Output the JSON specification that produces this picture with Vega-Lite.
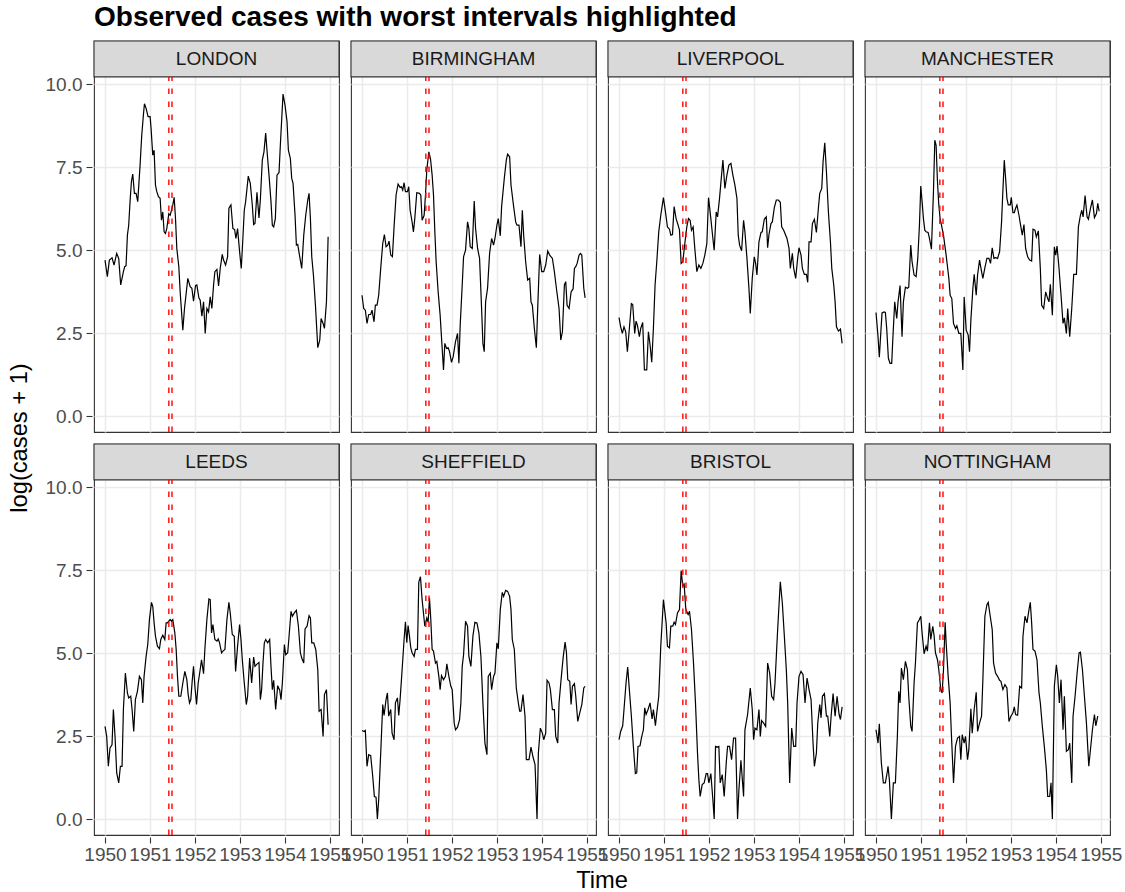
{
"$schema": "https://vega.github.io/schema/vega-lite/v6.json",
"padding": {"left": 8, "top": 3, "right": 2, "bottom": 0},
"title": {"text": "Observed cases with worst intervals highlighted", "anchor": "start", "frame": "group", "fontSize": 28, "fontWeight": "bold", "font": "Liberation Sans", "color": "#000000", "offset": 8},
"data": {"values": [
{"city":"LONDON","lo":1951.42,"hi":1951.49},
{"city":"BIRMINGHAM","lo":1951.42,"hi":1951.49},
{"city":"LIVERPOOL","lo":1951.42,"hi":1951.49},
{"city":"MANCHESTER","lo":1951.42,"hi":1951.49},
{"city":"LEEDS","lo":1951.42,"hi":1951.49},
{"city":"SHEFFIELD","lo":1951.42,"hi":1951.49},
{"city":"BRISTOL","lo":1951.42,"hi":1951.49},
{"city":"NOTTINGHAM","lo":1951.42,"hi":1951.49},
{"city":"LONDON","t":1950.000,"v":4.70},{"city":"LONDON","t":1950.052,"v":4.20},{"city":"LONDON","t":1950.097,"v":4.70},{"city":"LONDON","t":1950.156,"v":4.77},{"city":"LONDON","t":1950.201,"v":4.55},{"city":"LONDON","t":1950.260,"v":4.90},{"city":"LONDON","t":1950.305,"v":4.75},{"city":"LONDON","t":1950.349,"v":3.95},{"city":"LONDON","t":1950.409,"v":4.35},{"city":"LONDON","t":1950.438,"v":4.50},{"city":"LONDON","t":1950.468,"v":4.53},{"city":"LONDON","t":1950.498,"v":5.45},{"city":"LONDON","t":1950.527,"v":5.75},{"city":"LONDON","t":1950.557,"v":6.46},{"city":"LONDON","t":1950.587,"v":7.06},{"city":"LONDON","t":1950.617,"v":7.29},{"city":"LONDON","t":1950.654,"v":6.71},{"city":"LONDON","t":1950.691,"v":6.71},{"city":"LONDON","t":1950.728,"v":6.46},{"city":"LONDON","t":1950.780,"v":7.56},{"city":"LONDON","t":1950.817,"v":8.46},{"city":"LONDON","t":1950.854,"v":9.07},{"city":"LONDON","t":1950.877,"v":9.41},{"city":"LONDON","t":1950.914,"v":9.27},{"city":"LONDON","t":1950.958,"v":9.02},{"city":"LONDON","t":1951.003,"v":9.02},{"city":"LONDON","t":1951.025,"v":8.66},{"city":"LONDON","t":1951.062,"v":7.86},{"city":"LONDON","t":1951.092,"v":8.01},{"city":"LONDON","t":1951.122,"v":6.96},{"city":"LONDON","t":1951.152,"v":6.76},{"city":"LONDON","t":1951.189,"v":6.61},{"city":"LONDON","t":1951.226,"v":6.56},{"city":"LONDON","t":1951.256,"v":5.90},{"city":"LONDON","t":1951.285,"v":6.15},{"city":"LONDON","t":1951.315,"v":5.55},{"city":"LONDON","t":1951.345,"v":5.50},{"city":"LONDON","t":1951.374,"v":5.65},{"city":"LONDON","t":1951.419,"v":6.10},{"city":"LONDON","t":1951.449,"v":6.05},{"city":"LONDON","t":1951.478,"v":6.20},{"city":"LONDON","t":1951.508,"v":6.36},{"city":"LONDON","t":1951.538,"v":6.59},{"city":"LONDON","t":1951.568,"v":5.95},{"city":"LONDON","t":1951.597,"v":5.05},{"city":"LONDON","t":1951.642,"v":4.50},{"city":"LONDON","t":1951.672,"v":3.74},{"city":"LONDON","t":1951.731,"v":2.59},{"city":"LONDON","t":1951.768,"v":3.24},{"city":"LONDON","t":1951.842,"v":4.15},{"city":"LONDON","t":1951.894,"v":3.90},{"city":"LONDON","t":1951.932,"v":3.85},{"city":"LONDON","t":1951.969,"v":3.46},{"city":"LONDON","t":1952.013,"v":3.93},{"city":"LONDON","t":1952.043,"v":3.95},{"city":"LONDON","t":1952.088,"v":3.56},{"city":"LONDON","t":1952.117,"v":3.49},{"city":"LONDON","t":1952.155,"v":3.01},{"city":"LONDON","t":1952.192,"v":3.44},{"city":"LONDON","t":1952.229,"v":2.49},{"city":"LONDON","t":1952.266,"v":3.24},{"city":"LONDON","t":1952.303,"v":3.14},{"city":"LONDON","t":1952.340,"v":3.59},{"city":"LONDON","t":1952.377,"v":3.24},{"city":"LONDON","t":1952.415,"v":3.95},{"city":"LONDON","t":1952.444,"v":4.35},{"city":"LONDON","t":1952.489,"v":4.42},{"city":"LONDON","t":1952.526,"v":3.92},{"city":"LONDON","t":1952.563,"v":4.45},{"city":"LONDON","t":1952.608,"v":4.87},{"city":"LONDON","t":1952.637,"v":4.70},{"city":"LONDON","t":1952.682,"v":4.55},{"city":"LONDON","t":1952.727,"v":4.80},{"city":"LONDON","t":1952.756,"v":6.26},{"city":"LONDON","t":1952.801,"v":6.36},{"city":"LONDON","t":1952.845,"v":5.65},{"city":"LONDON","t":1952.883,"v":5.62},{"city":"LONDON","t":1952.912,"v":5.35},{"city":"LONDON","t":1952.949,"v":5.65},{"city":"LONDON","t":1952.994,"v":4.95},{"city":"LONDON","t":1953.031,"v":4.45},{"city":"LONDON","t":1953.061,"v":5.20},{"city":"LONDON","t":1953.098,"v":6.20},{"city":"LONDON","t":1953.128,"v":6.46},{"city":"LONDON","t":1953.187,"v":7.23},{"city":"LONDON","t":1953.232,"v":7.01},{"city":"LONDON","t":1953.276,"v":6.36},{"city":"LONDON","t":1953.306,"v":5.77},{"city":"LONDON","t":1953.336,"v":5.80},{"city":"LONDON","t":1953.380,"v":6.74},{"city":"LONDON","t":1953.425,"v":5.97},{"city":"LONDON","t":1953.455,"v":6.51},{"city":"LONDON","t":1953.499,"v":7.71},{"city":"LONDON","t":1953.536,"v":7.96},{"city":"LONDON","t":1953.574,"v":8.53},{"city":"LONDON","t":1953.603,"v":8.01},{"city":"LONDON","t":1953.648,"v":7.26},{"city":"LONDON","t":1953.692,"v":6.46},{"city":"LONDON","t":1953.722,"v":5.75},{"city":"LONDON","t":1953.752,"v":5.70},{"city":"LONDON","t":1953.789,"v":5.95},{"city":"LONDON","t":1953.826,"v":7.26},{"city":"LONDON","t":1953.871,"v":7.34},{"city":"LONDON","t":1953.900,"v":8.16},{"city":"LONDON","t":1953.960,"v":9.70},{"city":"LONDON","t":1954.004,"v":9.37},{"city":"LONDON","t":1954.049,"v":8.87},{"city":"LONDON","t":1954.079,"v":8.01},{"city":"LONDON","t":1954.123,"v":7.76},{"city":"LONDON","t":1954.153,"v":7.16},{"city":"LONDON","t":1954.183,"v":7.01},{"city":"LONDON","t":1954.227,"v":6.05},{"city":"LONDON","t":1954.257,"v":5.15},{"city":"LONDON","t":1954.287,"v":5.17},{"city":"LONDON","t":1954.331,"v":4.80},{"city":"LONDON","t":1954.376,"v":4.45},{"city":"LONDON","t":1954.421,"v":5.45},{"city":"LONDON","t":1954.465,"v":6.05},{"city":"LONDON","t":1954.510,"v":6.51},{"city":"LONDON","t":1954.539,"v":6.71},{"city":"LONDON","t":1954.569,"v":5.95},{"city":"LONDON","t":1954.599,"v":4.80},{"city":"LONDON","t":1954.636,"v":4.25},{"city":"LONDON","t":1954.681,"v":3.34},{"city":"LONDON","t":1954.733,"v":2.06},{"city":"LONDON","t":1954.777,"v":2.29},{"city":"LONDON","t":1954.807,"v":2.94},{"city":"LONDON","t":1954.851,"v":2.79},{"city":"LONDON","t":1954.881,"v":2.64},{"city":"LONDON","t":1954.926,"v":3.44},{"city":"LONDON","t":1954.963,"v":5.40},
{"city":"BIRMINGHAM","t":1950.000,"v":3.64},{"city":"BIRMINGHAM","t":1950.037,"v":3.24},{"city":"BIRMINGHAM","t":1950.074,"v":3.19},{"city":"BIRMINGHAM","t":1950.111,"v":2.79},{"city":"BIRMINGHAM","t":1950.149,"v":3.06},{"city":"BIRMINGHAM","t":1950.193,"v":3.06},{"city":"BIRMINGHAM","t":1950.223,"v":3.19},{"city":"BIRMINGHAM","t":1950.267,"v":2.84},{"city":"BIRMINGHAM","t":1950.297,"v":3.34},{"city":"BIRMINGHAM","t":1950.334,"v":3.34},{"city":"BIRMINGHAM","t":1950.371,"v":3.64},{"city":"BIRMINGHAM","t":1950.416,"v":4.45},{"city":"BIRMINGHAM","t":1950.461,"v":5.20},{"city":"BIRMINGHAM","t":1950.498,"v":5.47},{"city":"BIRMINGHAM","t":1950.535,"v":5.10},{"city":"BIRMINGHAM","t":1950.572,"v":5.15},{"city":"BIRMINGHAM","t":1950.602,"v":5.27},{"city":"BIRMINGHAM","t":1950.639,"v":4.85},{"city":"BIRMINGHAM","t":1950.676,"v":4.80},{"city":"BIRMINGHAM","t":1950.713,"v":5.70},{"city":"BIRMINGHAM","t":1950.758,"v":6.66},{"city":"BIRMINGHAM","t":1950.802,"v":6.99},{"city":"BIRMINGHAM","t":1950.847,"v":6.89},{"city":"BIRMINGHAM","t":1950.877,"v":6.91},{"city":"BIRMINGHAM","t":1950.906,"v":6.81},{"city":"BIRMINGHAM","t":1950.936,"v":7.03},{"city":"BIRMINGHAM","t":1950.966,"v":6.76},{"city":"BIRMINGHAM","t":1951.010,"v":6.76},{"city":"BIRMINGHAM","t":1951.040,"v":6.91},{"city":"BIRMINGHAM","t":1951.070,"v":6.20},{"city":"BIRMINGHAM","t":1951.114,"v":5.85},{"city":"BIRMINGHAM","t":1951.144,"v":5.55},{"city":"BIRMINGHAM","t":1951.174,"v":5.95},{"city":"BIRMINGHAM","t":1951.218,"v":6.73},{"city":"BIRMINGHAM","t":1951.278,"v":6.71},{"city":"BIRMINGHAM","t":1951.308,"v":6.66},{"city":"BIRMINGHAM","t":1951.337,"v":5.90},{"city":"BIRMINGHAM","t":1951.382,"v":6.05},{"city":"BIRMINGHAM","t":1951.412,"v":6.66},{"city":"BIRMINGHAM","t":1951.441,"v":7.41},{"city":"BIRMINGHAM","t":1951.486,"v":7.96},{"city":"BIRMINGHAM","t":1951.523,"v":7.76},{"city":"BIRMINGHAM","t":1951.560,"v":7.26},{"city":"BIRMINGHAM","t":1951.590,"v":6.66},{"city":"BIRMINGHAM","t":1951.620,"v":5.55},{"city":"BIRMINGHAM","t":1951.649,"v":4.65},{"city":"BIRMINGHAM","t":1951.694,"v":3.74},{"city":"BIRMINGHAM","t":1951.738,"v":3.04},{"city":"BIRMINGHAM","t":1951.783,"v":2.04},{"city":"BIRMINGHAM","t":1951.813,"v":1.39},{"city":"BIRMINGHAM","t":1951.842,"v":2.19},{"city":"BIRMINGHAM","t":1951.880,"v":2.04},{"city":"BIRMINGHAM","t":1951.917,"v":2.06},{"city":"BIRMINGHAM","t":1951.947,"v":1.94},{"city":"BIRMINGHAM","t":1951.991,"v":1.62},{"city":"BIRMINGHAM","t":1952.028,"v":1.79},{"city":"BIRMINGHAM","t":1952.080,"v":2.24},{"city":"BIRMINGHAM","t":1952.125,"v":2.49},{"city":"BIRMINGHAM","t":1952.155,"v":1.59},{"city":"BIRMINGHAM","t":1952.184,"v":2.74},{"city":"BIRMINGHAM","t":1952.229,"v":3.95},{"city":"BIRMINGHAM","t":1952.259,"v":4.80},{"city":"BIRMINGHAM","t":1952.303,"v":5.00},{"city":"BIRMINGHAM","t":1952.348,"v":5.85},{"city":"BIRMINGHAM","t":1952.377,"v":5.65},{"city":"BIRMINGHAM","t":1952.407,"v":5.10},{"city":"BIRMINGHAM","t":1952.452,"v":5.05},{"city":"BIRMINGHAM","t":1952.496,"v":6.48},{"city":"BIRMINGHAM","t":1952.526,"v":5.65},{"city":"BIRMINGHAM","t":1952.571,"v":5.05},{"city":"BIRMINGHAM","t":1952.615,"v":4.75},{"city":"BIRMINGHAM","t":1952.660,"v":3.24},{"city":"BIRMINGHAM","t":1952.689,"v":2.19},{"city":"BIRMINGHAM","t":1952.719,"v":1.94},{"city":"BIRMINGHAM","t":1952.749,"v":3.44},{"city":"BIRMINGHAM","t":1952.793,"v":3.85},{"city":"BIRMINGHAM","t":1952.838,"v":4.90},{"city":"BIRMINGHAM","t":1952.883,"v":5.35},{"city":"BIRMINGHAM","t":1952.927,"v":5.15},{"city":"BIRMINGHAM","t":1952.957,"v":5.35},{"city":"BIRMINGHAM","t":1953.001,"v":5.75},{"city":"BIRMINGHAM","t":1953.031,"v":5.95},{"city":"BIRMINGHAM","t":1953.076,"v":5.43},{"city":"BIRMINGHAM","t":1953.105,"v":6.31},{"city":"BIRMINGHAM","t":1953.165,"v":7.16},{"city":"BIRMINGHAM","t":1953.210,"v":7.71},{"city":"BIRMINGHAM","t":1953.239,"v":7.89},{"city":"BIRMINGHAM","t":1953.284,"v":7.81},{"city":"BIRMINGHAM","t":1953.314,"v":6.96},{"city":"BIRMINGHAM","t":1953.373,"v":6.31},{"city":"BIRMINGHAM","t":1953.418,"v":5.85},{"city":"BIRMINGHAM","t":1953.447,"v":5.75},{"city":"BIRMINGHAM","t":1953.492,"v":5.75},{"city":"BIRMINGHAM","t":1953.536,"v":5.10},{"city":"BIRMINGHAM","t":1953.566,"v":6.20},{"city":"BIRMINGHAM","t":1953.596,"v":5.45},{"city":"BIRMINGHAM","t":1953.640,"v":4.65},{"city":"BIRMINGHAM","t":1953.685,"v":4.10},{"city":"BIRMINGHAM","t":1953.730,"v":4.15},{"city":"BIRMINGHAM","t":1953.759,"v":3.44},{"city":"BIRMINGHAM","t":1953.789,"v":3.34},{"city":"BIRMINGHAM","t":1953.834,"v":2.64},{"city":"BIRMINGHAM","t":1953.878,"v":2.06},{"city":"BIRMINGHAM","t":1953.908,"v":3.24},{"city":"BIRMINGHAM","t":1953.952,"v":4.87},{"city":"BIRMINGHAM","t":1953.997,"v":4.35},{"city":"BIRMINGHAM","t":1954.042,"v":4.35},{"city":"BIRMINGHAM","t":1954.086,"v":4.55},{"city":"BIRMINGHAM","t":1954.131,"v":4.97},{"city":"BIRMINGHAM","t":1954.175,"v":4.85},{"city":"BIRMINGHAM","t":1954.235,"v":4.75},{"city":"BIRMINGHAM","t":1954.279,"v":4.35},{"city":"BIRMINGHAM","t":1954.324,"v":3.85},{"city":"BIRMINGHAM","t":1954.383,"v":3.24},{"city":"BIRMINGHAM","t":1954.421,"v":2.29},{"city":"BIRMINGHAM","t":1954.458,"v":2.54},{"city":"BIRMINGHAM","t":1954.502,"v":3.95},{"city":"BIRMINGHAM","t":1954.532,"v":4.05},{"city":"BIRMINGHAM","t":1954.562,"v":3.34},{"city":"BIRMINGHAM","t":1954.606,"v":3.24},{"city":"BIRMINGHAM","t":1954.651,"v":3.74},{"city":"BIRMINGHAM","t":1954.695,"v":3.83},{"city":"BIRMINGHAM","t":1954.725,"v":4.45},{"city":"BIRMINGHAM","t":1954.755,"v":4.50},{"city":"BIRMINGHAM","t":1954.785,"v":4.60},{"city":"BIRMINGHAM","t":1954.829,"v":4.85},{"city":"BIRMINGHAM","t":1954.859,"v":4.90},{"city":"BIRMINGHAM","t":1954.889,"v":4.85},{"city":"BIRMINGHAM","t":1954.933,"v":3.85},{"city":"BIRMINGHAM","t":1954.963,"v":3.56},
{"city":"LIVERPOOL","t":1950.000,"v":2.97},{"city":"LIVERPOOL","t":1950.037,"v":2.69},{"city":"LIVERPOOL","t":1950.074,"v":2.49},{"city":"LIVERPOOL","t":1950.111,"v":2.69},{"city":"LIVERPOOL","t":1950.149,"v":2.54},{"city":"LIVERPOOL","t":1950.186,"v":1.94},{"city":"LIVERPOOL","t":1950.230,"v":2.64},{"city":"LIVERPOOL","t":1950.275,"v":3.39},{"city":"LIVERPOOL","t":1950.305,"v":3.36},{"city":"LIVERPOOL","t":1950.349,"v":2.49},{"city":"LIVERPOOL","t":1950.379,"v":2.86},{"city":"LIVERPOOL","t":1950.409,"v":2.74},{"city":"LIVERPOOL","t":1950.453,"v":2.39},{"city":"LIVERPOOL","t":1950.483,"v":2.64},{"city":"LIVERPOOL","t":1950.527,"v":2.82},{"city":"LIVERPOOL","t":1950.565,"v":1.39},{"city":"LIVERPOOL","t":1950.617,"v":1.39},{"city":"LIVERPOOL","t":1950.654,"v":2.54},{"city":"LIVERPOOL","t":1950.691,"v":2.14},{"city":"LIVERPOOL","t":1950.728,"v":1.62},{"city":"LIVERPOOL","t":1950.765,"v":2.64},{"city":"LIVERPOOL","t":1950.802,"v":3.95},{"city":"LIVERPOOL","t":1950.840,"v":4.65},{"city":"LIVERPOOL","t":1950.884,"v":5.55},{"city":"LIVERPOOL","t":1950.929,"v":6.05},{"city":"LIVERPOOL","t":1950.988,"v":6.58},{"city":"LIVERPOOL","t":1951.033,"v":6.15},{"city":"LIVERPOOL","t":1951.077,"v":5.70},{"city":"LIVERPOOL","t":1951.122,"v":5.63},{"city":"LIVERPOOL","t":1951.152,"v":5.45},{"city":"LIVERPOOL","t":1951.189,"v":5.47},{"city":"LIVERPOOL","t":1951.226,"v":6.31},{"city":"LIVERPOOL","t":1951.270,"v":5.95},{"city":"LIVERPOOL","t":1951.315,"v":5.75},{"city":"LIVERPOOL","t":1951.345,"v":5.60},{"city":"LIVERPOOL","t":1951.382,"v":4.60},{"city":"LIVERPOOL","t":1951.419,"v":4.65},{"city":"LIVERPOOL","t":1951.464,"v":5.20},{"city":"LIVERPOOL","t":1951.508,"v":5.70},{"city":"LIVERPOOL","t":1951.545,"v":5.95},{"city":"LIVERPOOL","t":1951.582,"v":5.90},{"city":"LIVERPOOL","t":1951.612,"v":5.60},{"city":"LIVERPOOL","t":1951.649,"v":5.70},{"city":"LIVERPOOL","t":1951.686,"v":5.05},{"city":"LIVERPOOL","t":1951.731,"v":4.35},{"city":"LIVERPOOL","t":1951.776,"v":4.55},{"city":"LIVERPOOL","t":1951.820,"v":4.45},{"city":"LIVERPOOL","t":1951.865,"v":4.60},{"city":"LIVERPOOL","t":1951.909,"v":4.85},{"city":"LIVERPOOL","t":1951.954,"v":5.20},{"city":"LIVERPOOL","t":1951.991,"v":6.58},{"city":"LIVERPOOL","t":1952.043,"v":5.95},{"city":"LIVERPOOL","t":1952.088,"v":5.35},{"city":"LIVERPOOL","t":1952.117,"v":5.00},{"city":"LIVERPOOL","t":1952.162,"v":6.15},{"city":"LIVERPOOL","t":1952.192,"v":6.00},{"city":"LIVERPOOL","t":1952.236,"v":6.56},{"city":"LIVERPOOL","t":1952.281,"v":7.26},{"city":"LIVERPOOL","t":1952.311,"v":7.71},{"city":"LIVERPOOL","t":1952.355,"v":6.86},{"city":"LIVERPOOL","t":1952.400,"v":7.26},{"city":"LIVERPOOL","t":1952.444,"v":7.56},{"city":"LIVERPOOL","t":1952.489,"v":7.61},{"city":"LIVERPOOL","t":1952.533,"v":7.26},{"city":"LIVERPOOL","t":1952.578,"v":6.96},{"city":"LIVERPOOL","t":1952.623,"v":6.56},{"city":"LIVERPOOL","t":1952.652,"v":5.45},{"city":"LIVERPOOL","t":1952.682,"v":5.15},{"city":"LIVERPOOL","t":1952.727,"v":4.98},{"city":"LIVERPOOL","t":1952.771,"v":5.90},{"city":"LIVERPOOL","t":1952.801,"v":5.55},{"city":"LIVERPOOL","t":1952.846,"v":4.75},{"city":"LIVERPOOL","t":1952.890,"v":3.85},{"city":"LIVERPOOL","t":1952.920,"v":3.09},{"city":"LIVERPOOL","t":1952.964,"v":4.15},{"city":"LIVERPOOL","t":1953.009,"v":4.80},{"city":"LIVERPOOL","t":1953.039,"v":4.60},{"city":"LIVERPOOL","t":1953.068,"v":4.25},{"city":"LIVERPOOL","t":1953.113,"v":5.25},{"city":"LIVERPOOL","t":1953.158,"v":5.53},{"city":"LIVERPOOL","t":1953.187,"v":5.55},{"city":"LIVERPOOL","t":1953.232,"v":5.93},{"city":"LIVERPOOL","t":1953.276,"v":6.00},{"city":"LIVERPOOL","t":1953.306,"v":5.07},{"city":"LIVERPOOL","t":1953.336,"v":5.47},{"city":"LIVERPOOL","t":1953.380,"v":5.80},{"city":"LIVERPOOL","t":1953.410,"v":5.85},{"city":"LIVERPOOL","t":1953.455,"v":6.28},{"city":"LIVERPOOL","t":1953.499,"v":6.51},{"city":"LIVERPOOL","t":1953.544,"v":6.51},{"city":"LIVERPOOL","t":1953.588,"v":6.44},{"city":"LIVERPOOL","t":1953.618,"v":5.70},{"city":"LIVERPOOL","t":1953.663,"v":5.60},{"city":"LIVERPOOL","t":1953.692,"v":5.50},{"city":"LIVERPOOL","t":1953.737,"v":5.35},{"city":"LIVERPOOL","t":1953.782,"v":5.05},{"city":"LIVERPOOL","t":1953.811,"v":4.45},{"city":"LIVERPOOL","t":1953.856,"v":4.90},{"city":"LIVERPOOL","t":1953.886,"v":4.45},{"city":"LIVERPOOL","t":1953.930,"v":4.15},{"city":"LIVERPOOL","t":1953.975,"v":4.77},{"city":"LIVERPOOL","t":1954.004,"v":5.07},{"city":"LIVERPOOL","t":1954.049,"v":4.85},{"city":"LIVERPOOL","t":1954.079,"v":4.45},{"city":"LIVERPOOL","t":1954.123,"v":4.27},{"city":"LIVERPOOL","t":1954.168,"v":4.27},{"city":"LIVERPOOL","t":1954.198,"v":4.03},{"city":"LIVERPOOL","t":1954.227,"v":5.25},{"city":"LIVERPOOL","t":1954.272,"v":5.25},{"city":"LIVERPOOL","t":1954.302,"v":5.80},{"city":"LIVERPOOL","t":1954.346,"v":5.93},{"city":"LIVERPOOL","t":1954.391,"v":5.53},{"city":"LIVERPOOL","t":1954.435,"v":6.26},{"city":"LIVERPOOL","t":1954.465,"v":6.71},{"city":"LIVERPOOL","t":1954.510,"v":6.86},{"city":"LIVERPOOL","t":1954.539,"v":7.66},{"city":"LIVERPOOL","t":1954.577,"v":8.23},{"city":"LIVERPOOL","t":1954.614,"v":7.36},{"city":"LIVERPOOL","t":1954.658,"v":6.15},{"city":"LIVERPOOL","t":1954.703,"v":5.25},{"city":"LIVERPOOL","t":1954.733,"v":4.45},{"city":"LIVERPOOL","t":1954.777,"v":3.95},{"city":"LIVERPOOL","t":1954.807,"v":3.44},{"city":"LIVERPOOL","t":1954.837,"v":2.69},{"city":"LIVERPOOL","t":1954.881,"v":2.56},{"city":"LIVERPOOL","t":1954.926,"v":2.62},{"city":"LIVERPOOL","t":1954.963,"v":2.19},
{"city":"MANCHESTER","t":1950.000,"v":3.12},{"city":"MANCHESTER","t":1950.045,"v":2.39},{"city":"MANCHESTER","t":1950.074,"v":1.77},{"city":"MANCHESTER","t":1950.104,"v":2.46},{"city":"MANCHESTER","t":1950.134,"v":3.11},{"city":"MANCHESTER","t":1950.178,"v":3.14},{"city":"MANCHESTER","t":1950.208,"v":3.12},{"city":"MANCHESTER","t":1950.238,"v":2.64},{"city":"MANCHESTER","t":1950.275,"v":1.74},{"city":"MANCHESTER","t":1950.312,"v":1.59},{"city":"MANCHESTER","t":1950.349,"v":1.59},{"city":"MANCHESTER","t":1950.371,"v":2.24},{"city":"MANCHESTER","t":1950.416,"v":3.44},{"city":"MANCHESTER","t":1950.461,"v":2.94},{"city":"MANCHESTER","t":1950.490,"v":3.44},{"city":"MANCHESTER","t":1950.535,"v":3.93},{"city":"MANCHESTER","t":1950.579,"v":2.39},{"city":"MANCHESTER","t":1950.609,"v":3.44},{"city":"MANCHESTER","t":1950.654,"v":3.88},{"city":"MANCHESTER","t":1950.698,"v":3.85},{"city":"MANCHESTER","t":1950.728,"v":3.88},{"city":"MANCHESTER","t":1950.773,"v":5.15},{"city":"MANCHESTER","t":1950.802,"v":4.65},{"city":"MANCHESTER","t":1950.847,"v":4.25},{"city":"MANCHESTER","t":1950.892,"v":4.20},{"city":"MANCHESTER","t":1950.929,"v":4.75},{"city":"MANCHESTER","t":1950.966,"v":5.75},{"city":"MANCHESTER","t":1950.996,"v":6.93},{"city":"MANCHESTER","t":1951.025,"v":6.46},{"city":"MANCHESTER","t":1951.055,"v":5.95},{"city":"MANCHESTER","t":1951.085,"v":5.60},{"city":"MANCHESTER","t":1951.114,"v":5.55},{"city":"MANCHESTER","t":1951.159,"v":5.53},{"city":"MANCHESTER","t":1951.189,"v":5.35},{"city":"MANCHESTER","t":1951.233,"v":5.03},{"city":"MANCHESTER","t":1951.278,"v":6.76},{"city":"MANCHESTER","t":1951.308,"v":8.31},{"city":"MANCHESTER","t":1951.337,"v":8.16},{"city":"MANCHESTER","t":1951.367,"v":7.06},{"city":"MANCHESTER","t":1951.397,"v":6.36},{"city":"MANCHESTER","t":1951.426,"v":5.95},{"city":"MANCHESTER","t":1951.456,"v":5.75},{"city":"MANCHESTER","t":1951.501,"v":5.45},{"city":"MANCHESTER","t":1951.530,"v":5.15},{"city":"MANCHESTER","t":1951.560,"v":4.85},{"city":"MANCHESTER","t":1951.590,"v":4.50},{"city":"MANCHESTER","t":1951.620,"v":4.15},{"city":"MANCHESTER","t":1951.649,"v":3.64},{"city":"MANCHESTER","t":1951.686,"v":3.54},{"city":"MANCHESTER","t":1951.724,"v":2.79},{"city":"MANCHESTER","t":1951.768,"v":2.64},{"city":"MANCHESTER","t":1951.798,"v":2.72},{"city":"MANCHESTER","t":1951.842,"v":2.49},{"city":"MANCHESTER","t":1951.887,"v":2.49},{"city":"MANCHESTER","t":1951.932,"v":1.39},{"city":"MANCHESTER","t":1951.961,"v":3.59},{"city":"MANCHESTER","t":1952.006,"v":2.59},{"city":"MANCHESTER","t":1952.051,"v":2.44},{"city":"MANCHESTER","t":1952.080,"v":1.94},{"city":"MANCHESTER","t":1952.110,"v":2.89},{"city":"MANCHESTER","t":1952.155,"v":3.85},{"city":"MANCHESTER","t":1952.184,"v":4.27},{"city":"MANCHESTER","t":1952.229,"v":3.64},{"city":"MANCHESTER","t":1952.259,"v":4.25},{"city":"MANCHESTER","t":1952.303,"v":4.70},{"city":"MANCHESTER","t":1952.348,"v":4.35},{"city":"MANCHESTER","t":1952.377,"v":4.15},{"city":"MANCHESTER","t":1952.422,"v":4.47},{"city":"MANCHESTER","t":1952.467,"v":4.75},{"city":"MANCHESTER","t":1952.511,"v":4.75},{"city":"MANCHESTER","t":1952.548,"v":4.60},{"city":"MANCHESTER","t":1952.585,"v":5.07},{"city":"MANCHESTER","t":1952.623,"v":4.75},{"city":"MANCHESTER","t":1952.660,"v":4.77},{"city":"MANCHESTER","t":1952.704,"v":4.75},{"city":"MANCHESTER","t":1952.749,"v":4.95},{"city":"MANCHESTER","t":1952.793,"v":5.85},{"city":"MANCHESTER","t":1952.823,"v":6.81},{"city":"MANCHESTER","t":1952.853,"v":7.71},{"city":"MANCHESTER","t":1952.883,"v":7.16},{"city":"MANCHESTER","t":1952.912,"v":6.56},{"city":"MANCHESTER","t":1952.942,"v":6.36},{"city":"MANCHESTER","t":1952.987,"v":6.36},{"city":"MANCHESTER","t":1953.009,"v":6.59},{"city":"MANCHESTER","t":1953.046,"v":6.13},{"city":"MANCHESTER","t":1953.076,"v":6.13},{"city":"MANCHESTER","t":1953.105,"v":6.26},{"city":"MANCHESTER","t":1953.135,"v":6.36},{"city":"MANCHESTER","t":1953.180,"v":6.05},{"city":"MANCHESTER","t":1953.210,"v":5.80},{"city":"MANCHESTER","t":1953.254,"v":5.45},{"city":"MANCHESTER","t":1953.291,"v":5.77},{"city":"MANCHESTER","t":1953.328,"v":5.05},{"city":"MANCHESTER","t":1953.373,"v":4.80},{"city":"MANCHESTER","t":1953.418,"v":4.70},{"city":"MANCHESTER","t":1953.462,"v":4.67},{"city":"MANCHESTER","t":1953.492,"v":5.63},{"city":"MANCHESTER","t":1953.536,"v":5.60},{"city":"MANCHESTER","t":1953.566,"v":5.40},{"city":"MANCHESTER","t":1953.611,"v":5.58},{"city":"MANCHESTER","t":1953.655,"v":4.45},{"city":"MANCHESTER","t":1953.685,"v":3.34},{"city":"MANCHESTER","t":1953.730,"v":3.24},{"city":"MANCHESTER","t":1953.774,"v":3.74},{"city":"MANCHESTER","t":1953.819,"v":3.54},{"city":"MANCHESTER","t":1953.848,"v":3.44},{"city":"MANCHESTER","t":1953.878,"v":3.97},{"city":"MANCHESTER","t":1953.923,"v":3.04},{"city":"MANCHESTER","t":1953.967,"v":5.10},{"city":"MANCHESTER","t":1953.997,"v":4.85},{"city":"MANCHESTER","t":1954.027,"v":5.12},{"city":"MANCHESTER","t":1954.071,"v":4.45},{"city":"MANCHESTER","t":1954.116,"v":3.64},{"city":"MANCHESTER","t":1954.160,"v":2.79},{"city":"MANCHESTER","t":1954.190,"v":2.96},{"city":"MANCHESTER","t":1954.235,"v":2.49},{"city":"MANCHESTER","t":1954.264,"v":3.24},{"city":"MANCHESTER","t":1954.309,"v":2.39},{"city":"MANCHESTER","t":1954.354,"v":3.24},{"city":"MANCHESTER","t":1954.398,"v":4.27},{"city":"MANCHESTER","t":1954.458,"v":4.27},{"city":"MANCHESTER","t":1954.502,"v":5.70},{"city":"MANCHESTER","t":1954.547,"v":6.05},{"city":"MANCHESTER","t":1954.577,"v":6.20},{"city":"MANCHESTER","t":1954.606,"v":6.00},{"city":"MANCHESTER","t":1954.651,"v":6.64},{"city":"MANCHESTER","t":1954.695,"v":6.00},{"city":"MANCHESTER","t":1954.725,"v":5.93},{"city":"MANCHESTER","t":1954.770,"v":6.26},{"city":"MANCHESTER","t":1954.814,"v":6.51},{"city":"MANCHESTER","t":1954.859,"v":5.98},{"city":"MANCHESTER","t":1954.903,"v":6.10},{"city":"MANCHESTER","t":1954.933,"v":6.41},{"city":"MANCHESTER","t":1954.963,"v":6.17},
{"city":"LEEDS","t":1950.000,"v":2.79},{"city":"LEEDS","t":1950.037,"v":2.49},{"city":"LEEDS","t":1950.074,"v":1.59},{"city":"LEEDS","t":1950.111,"v":2.14},{"city":"LEEDS","t":1950.156,"v":2.24},{"city":"LEEDS","t":1950.186,"v":3.30},{"city":"LEEDS","t":1950.223,"v":2.49},{"city":"LEEDS","t":1950.260,"v":1.39},{"city":"LEEDS","t":1950.305,"v":1.09},{"city":"LEEDS","t":1950.342,"v":1.59},{"city":"LEEDS","t":1950.379,"v":1.59},{"city":"LEEDS","t":1950.409,"v":3.30},{"city":"LEEDS","t":1950.453,"v":4.40},{"city":"LEEDS","t":1950.498,"v":3.80},{"city":"LEEDS","t":1950.527,"v":3.65},{"city":"LEEDS","t":1950.572,"v":3.70},{"city":"LEEDS","t":1950.602,"v":3.30},{"city":"LEEDS","t":1950.639,"v":2.64},{"city":"LEEDS","t":1950.676,"v":3.60},{"city":"LEEDS","t":1950.721,"v":3.85},{"city":"LEEDS","t":1950.765,"v":4.30},{"city":"LEEDS","t":1950.810,"v":4.20},{"city":"LEEDS","t":1950.840,"v":3.50},{"city":"LEEDS","t":1950.869,"v":4.30},{"city":"LEEDS","t":1950.914,"v":4.90},{"city":"LEEDS","t":1950.951,"v":5.26},{"city":"LEEDS","t":1950.988,"v":6.01},{"city":"LEEDS","t":1951.033,"v":6.53},{"city":"LEEDS","t":1951.062,"v":6.41},{"city":"LEEDS","t":1951.092,"v":5.91},{"city":"LEEDS","t":1951.122,"v":5.51},{"city":"LEEDS","t":1951.166,"v":5.21},{"city":"LEEDS","t":1951.211,"v":5.13},{"city":"LEEDS","t":1951.241,"v":5.41},{"city":"LEEDS","t":1951.285,"v":5.54},{"city":"LEEDS","t":1951.330,"v":5.41},{"city":"LEEDS","t":1951.360,"v":5.91},{"city":"LEEDS","t":1951.389,"v":5.91},{"city":"LEEDS","t":1951.419,"v":5.96},{"city":"LEEDS","t":1951.449,"v":6.01},{"city":"LEEDS","t":1951.478,"v":5.96},{"city":"LEEDS","t":1951.508,"v":6.01},{"city":"LEEDS","t":1951.553,"v":5.61},{"city":"LEEDS","t":1951.583,"v":5.11},{"city":"LEEDS","t":1951.612,"v":4.30},{"city":"LEEDS","t":1951.642,"v":3.70},{"city":"LEEDS","t":1951.686,"v":3.70},{"city":"LEEDS","t":1951.731,"v":4.10},{"city":"LEEDS","t":1951.776,"v":4.45},{"city":"LEEDS","t":1951.820,"v":4.20},{"city":"LEEDS","t":1951.850,"v":3.75},{"city":"LEEDS","t":1951.880,"v":3.50},{"city":"LEEDS","t":1951.909,"v":3.60},{"city":"LEEDS","t":1951.939,"v":4.15},{"city":"LEEDS","t":1951.969,"v":4.60},{"city":"LEEDS","t":1951.999,"v":4.00},{"city":"LEEDS","t":1952.036,"v":3.45},{"city":"LEEDS","t":1952.073,"v":4.10},{"city":"LEEDS","t":1952.117,"v":4.50},{"city":"LEEDS","t":1952.147,"v":4.80},{"city":"LEEDS","t":1952.192,"v":4.38},{"city":"LEEDS","t":1952.221,"v":5.11},{"city":"LEEDS","t":1952.266,"v":6.01},{"city":"LEEDS","t":1952.311,"v":6.63},{"city":"LEEDS","t":1952.340,"v":6.61},{"city":"LEEDS","t":1952.370,"v":5.61},{"city":"LEEDS","t":1952.400,"v":5.86},{"city":"LEEDS","t":1952.444,"v":5.41},{"city":"LEEDS","t":1952.489,"v":5.36},{"city":"LEEDS","t":1952.519,"v":5.43},{"city":"LEEDS","t":1952.548,"v":5.31},{"city":"LEEDS","t":1952.593,"v":5.01},{"city":"LEEDS","t":1952.623,"v":5.06},{"city":"LEEDS","t":1952.667,"v":5.11},{"city":"LEEDS","t":1952.712,"v":6.01},{"city":"LEEDS","t":1952.756,"v":6.53},{"city":"LEEDS","t":1952.786,"v":6.21},{"city":"LEEDS","t":1952.831,"v":5.56},{"city":"LEEDS","t":1952.875,"v":5.51},{"city":"LEEDS","t":1952.905,"v":4.45},{"city":"LEEDS","t":1952.949,"v":5.21},{"city":"LEEDS","t":1952.994,"v":5.86},{"city":"LEEDS","t":1953.024,"v":5.41},{"city":"LEEDS","t":1953.054,"v":4.80},{"city":"LEEDS","t":1953.098,"v":4.10},{"city":"LEEDS","t":1953.143,"v":3.45},{"city":"LEEDS","t":1953.172,"v":3.70},{"city":"LEEDS","t":1953.217,"v":4.85},{"city":"LEEDS","t":1953.262,"v":4.10},{"city":"LEEDS","t":1953.306,"v":4.88},{"city":"LEEDS","t":1953.336,"v":4.60},{"city":"LEEDS","t":1953.380,"v":4.67},{"city":"LEEDS","t":1953.425,"v":4.72},{"city":"LEEDS","t":1953.455,"v":3.60},{"city":"LEEDS","t":1953.484,"v":3.90},{"city":"LEEDS","t":1953.514,"v":4.70},{"city":"LEEDS","t":1953.544,"v":5.31},{"city":"LEEDS","t":1953.574,"v":5.41},{"city":"LEEDS","t":1953.618,"v":5.31},{"city":"LEEDS","t":1953.663,"v":5.41},{"city":"LEEDS","t":1953.692,"v":4.60},{"city":"LEEDS","t":1953.722,"v":3.90},{"city":"LEEDS","t":1953.752,"v":4.18},{"city":"LEEDS","t":1953.796,"v":3.30},{"city":"LEEDS","t":1953.841,"v":4.02},{"city":"LEEDS","t":1953.886,"v":3.88},{"city":"LEEDS","t":1953.915,"v":3.60},{"city":"LEEDS","t":1953.945,"v":4.10},{"city":"LEEDS","t":1953.990,"v":5.26},{"city":"LEEDS","t":1954.019,"v":4.95},{"city":"LEEDS","t":1954.064,"v":5.01},{"city":"LEEDS","t":1954.094,"v":5.51},{"city":"LEEDS","t":1954.138,"v":6.26},{"city":"LEEDS","t":1954.168,"v":6.11},{"city":"LEEDS","t":1954.212,"v":6.21},{"city":"LEEDS","t":1954.257,"v":6.29},{"city":"LEEDS","t":1954.302,"v":5.81},{"city":"LEEDS","t":1954.346,"v":5.01},{"city":"LEEDS","t":1954.376,"v":4.85},{"city":"LEEDS","t":1954.421,"v":4.70},{"city":"LEEDS","t":1954.450,"v":5.73},{"city":"LEEDS","t":1954.495,"v":5.81},{"city":"LEEDS","t":1954.539,"v":6.13},{"city":"LEEDS","t":1954.569,"v":6.06},{"city":"LEEDS","t":1954.599,"v":5.31},{"city":"LEEDS","t":1954.643,"v":5.31},{"city":"LEEDS","t":1954.688,"v":5.11},{"city":"LEEDS","t":1954.733,"v":4.50},{"city":"LEEDS","t":1954.762,"v":3.25},{"city":"LEEDS","t":1954.807,"v":3.30},{"city":"LEEDS","t":1954.851,"v":2.49},{"city":"LEEDS","t":1954.881,"v":3.75},{"city":"LEEDS","t":1954.926,"v":3.90},{"city":"LEEDS","t":1954.963,"v":2.84},
{"city":"SHEFFIELD","t":1950.000,"v":2.67},{"city":"SHEFFIELD","t":1950.045,"v":2.64},{"city":"SHEFFIELD","t":1950.074,"v":2.67},{"city":"SHEFFIELD","t":1950.111,"v":1.59},{"city":"SHEFFIELD","t":1950.149,"v":1.94},{"city":"SHEFFIELD","t":1950.193,"v":1.91},{"city":"SHEFFIELD","t":1950.238,"v":1.29},{"city":"SHEFFIELD","t":1950.275,"v":0.68},{"city":"SHEFFIELD","t":1950.312,"v":0.66},{"city":"SHEFFIELD","t":1950.342,"v":0.00},{"city":"SHEFFIELD","t":1950.371,"v":0.58},{"city":"SHEFFIELD","t":1950.416,"v":1.99},{"city":"SHEFFIELD","t":1950.461,"v":3.45},{"city":"SHEFFIELD","t":1950.490,"v":3.12},{"city":"SHEFFIELD","t":1950.535,"v":3.60},{"city":"SHEFFIELD","t":1950.565,"v":3.80},{"city":"SHEFFIELD","t":1950.594,"v":3.10},{"city":"SHEFFIELD","t":1950.639,"v":3.30},{"city":"SHEFFIELD","t":1950.669,"v":2.59},{"city":"SHEFFIELD","t":1950.713,"v":2.39},{"city":"SHEFFIELD","t":1950.743,"v":3.50},{"city":"SHEFFIELD","t":1950.788,"v":3.65},{"city":"SHEFFIELD","t":1950.817,"v":3.12},{"city":"SHEFFIELD","t":1950.847,"v":3.60},{"city":"SHEFFIELD","t":1950.892,"v":4.50},{"city":"SHEFFIELD","t":1950.936,"v":5.41},{"city":"SHEFFIELD","t":1950.966,"v":5.94},{"city":"SHEFFIELD","t":1950.996,"v":5.31},{"city":"SHEFFIELD","t":1951.025,"v":5.83},{"city":"SHEFFIELD","t":1951.055,"v":5.51},{"city":"SHEFFIELD","t":1951.085,"v":5.16},{"city":"SHEFFIELD","t":1951.114,"v":5.01},{"city":"SHEFFIELD","t":1951.159,"v":4.90},{"city":"SHEFFIELD","t":1951.189,"v":5.11},{"city":"SHEFFIELD","t":1951.233,"v":5.11},{"city":"SHEFFIELD","t":1951.263,"v":7.14},{"city":"SHEFFIELD","t":1951.300,"v":7.30},{"city":"SHEFFIELD","t":1951.337,"v":6.61},{"city":"SHEFFIELD","t":1951.367,"v":6.21},{"city":"SHEFFIELD","t":1951.397,"v":5.81},{"city":"SHEFFIELD","t":1951.441,"v":6.06},{"city":"SHEFFIELD","t":1951.471,"v":5.93},{"city":"SHEFFIELD","t":1951.501,"v":6.66},{"city":"SHEFFIELD","t":1951.530,"v":6.01},{"city":"SHEFFIELD","t":1951.560,"v":5.11},{"city":"SHEFFIELD","t":1951.590,"v":5.06},{"city":"SHEFFIELD","t":1951.634,"v":4.70},{"city":"SHEFFIELD","t":1951.664,"v":4.75},{"city":"SHEFFIELD","t":1951.709,"v":4.30},{"city":"SHEFFIELD","t":1951.738,"v":3.90},{"city":"SHEFFIELD","t":1951.768,"v":4.32},{"city":"SHEFFIELD","t":1951.813,"v":4.20},{"city":"SHEFFIELD","t":1951.857,"v":4.30},{"city":"SHEFFIELD","t":1951.887,"v":4.68},{"city":"SHEFFIELD","t":1951.932,"v":4.30},{"city":"SHEFFIELD","t":1951.976,"v":4.00},{"city":"SHEFFIELD","t":1952.006,"v":3.90},{"city":"SHEFFIELD","t":1952.051,"v":2.89},{"city":"SHEFFIELD","t":1952.080,"v":2.69},{"city":"SHEFFIELD","t":1952.125,"v":2.77},{"city":"SHEFFIELD","t":1952.169,"v":2.99},{"city":"SHEFFIELD","t":1952.199,"v":3.50},{"city":"SHEFFIELD","t":1952.229,"v":4.60},{"city":"SHEFFIELD","t":1952.259,"v":4.95},{"city":"SHEFFIELD","t":1952.303,"v":5.96},{"city":"SHEFFIELD","t":1952.348,"v":5.81},{"city":"SHEFFIELD","t":1952.377,"v":4.90},{"city":"SHEFFIELD","t":1952.422,"v":4.60},{"city":"SHEFFIELD","t":1952.467,"v":5.51},{"city":"SHEFFIELD","t":1952.511,"v":5.93},{"city":"SHEFFIELD","t":1952.556,"v":5.91},{"city":"SHEFFIELD","t":1952.600,"v":5.61},{"city":"SHEFFIELD","t":1952.645,"v":4.90},{"city":"SHEFFIELD","t":1952.689,"v":3.50},{"city":"SHEFFIELD","t":1952.734,"v":2.29},{"city":"SHEFFIELD","t":1952.779,"v":1.94},{"city":"SHEFFIELD","t":1952.808,"v":4.30},{"city":"SHEFFIELD","t":1952.853,"v":4.40},{"city":"SHEFFIELD","t":1952.883,"v":3.90},{"city":"SHEFFIELD","t":1952.927,"v":4.30},{"city":"SHEFFIELD","t":1952.957,"v":4.40},{"city":"SHEFFIELD","t":1953.001,"v":5.31},{"city":"SHEFFIELD","t":1953.031,"v":5.13},{"city":"SHEFFIELD","t":1953.076,"v":6.31},{"city":"SHEFFIELD","t":1953.120,"v":6.83},{"city":"SHEFFIELD","t":1953.150,"v":6.71},{"city":"SHEFFIELD","t":1953.195,"v":6.89},{"city":"SHEFFIELD","t":1953.239,"v":6.86},{"city":"SHEFFIELD","t":1953.284,"v":6.71},{"city":"SHEFFIELD","t":1953.314,"v":6.31},{"city":"SHEFFIELD","t":1953.343,"v":5.41},{"city":"SHEFFIELD","t":1953.388,"v":5.11},{"city":"SHEFFIELD","t":1953.432,"v":3.95},{"city":"SHEFFIELD","t":1953.477,"v":3.50},{"city":"SHEFFIELD","t":1953.507,"v":3.25},{"city":"SHEFFIELD","t":1953.536,"v":3.25},{"city":"SHEFFIELD","t":1953.581,"v":3.75},{"city":"SHEFFIELD","t":1953.626,"v":3.10},{"city":"SHEFFIELD","t":1953.655,"v":1.79},{"city":"SHEFFIELD","t":1953.715,"v":1.79},{"city":"SHEFFIELD","t":1953.759,"v":2.17},{"city":"SHEFFIELD","t":1953.804,"v":1.87},{"city":"SHEFFIELD","t":1953.849,"v":1.64},{"city":"SHEFFIELD","t":1953.893,"v":0.00},{"city":"SHEFFIELD","t":1953.923,"v":1.99},{"city":"SHEFFIELD","t":1953.967,"v":2.74},{"city":"SHEFFIELD","t":1954.012,"v":2.59},{"city":"SHEFFIELD","t":1954.042,"v":2.39},{"city":"SHEFFIELD","t":1954.086,"v":2.59},{"city":"SHEFFIELD","t":1954.116,"v":4.18},{"city":"SHEFFIELD","t":1954.160,"v":4.10},{"city":"SHEFFIELD","t":1954.190,"v":3.90},{"city":"SHEFFIELD","t":1954.235,"v":3.30},{"city":"SHEFFIELD","t":1954.279,"v":3.30},{"city":"SHEFFIELD","t":1954.309,"v":2.49},{"city":"SHEFFIELD","t":1954.354,"v":2.29},{"city":"SHEFFIELD","t":1954.383,"v":3.50},{"city":"SHEFFIELD","t":1954.428,"v":4.20},{"city":"SHEFFIELD","t":1954.473,"v":4.85},{"city":"SHEFFIELD","t":1954.517,"v":5.33},{"city":"SHEFFIELD","t":1954.547,"v":5.03},{"city":"SHEFFIELD","t":1954.577,"v":4.20},{"city":"SHEFFIELD","t":1954.621,"v":4.15},{"city":"SHEFFIELD","t":1954.651,"v":3.45},{"city":"SHEFFIELD","t":1954.681,"v":4.00},{"city":"SHEFFIELD","t":1954.725,"v":4.08},{"city":"SHEFFIELD","t":1954.755,"v":3.70},{"city":"SHEFFIELD","t":1954.799,"v":2.94},{"city":"SHEFFIELD","t":1954.844,"v":3.20},{"city":"SHEFFIELD","t":1954.889,"v":3.45},{"city":"SHEFFIELD","t":1954.933,"v":3.95},{"city":"SHEFFIELD","t":1954.963,"v":4.00},
{"city":"BRISTOL","t":1950.000,"v":2.39},{"city":"BRISTOL","t":1950.037,"v":2.64},{"city":"BRISTOL","t":1950.082,"v":2.81},{"city":"BRISTOL","t":1950.111,"v":3.30},{"city":"BRISTOL","t":1950.156,"v":4.10},{"city":"BRISTOL","t":1950.193,"v":4.58},{"city":"BRISTOL","t":1950.230,"v":3.90},{"city":"BRISTOL","t":1950.275,"v":3.10},{"city":"BRISTOL","t":1950.319,"v":2.19},{"city":"BRISTOL","t":1950.364,"v":1.37},{"city":"BRISTOL","t":1950.394,"v":1.39},{"city":"BRISTOL","t":1950.423,"v":2.19},{"city":"BRISTOL","t":1950.468,"v":2.21},{"city":"BRISTOL","t":1950.498,"v":2.44},{"city":"BRISTOL","t":1950.542,"v":2.69},{"city":"BRISTOL","t":1950.572,"v":3.35},{"city":"BRISTOL","t":1950.602,"v":3.15},{"city":"BRISTOL","t":1950.646,"v":3.30},{"city":"BRISTOL","t":1950.691,"v":3.50},{"city":"BRISTOL","t":1950.736,"v":3.02},{"city":"BRISTOL","t":1950.765,"v":3.30},{"city":"BRISTOL","t":1950.810,"v":2.81},{"city":"BRISTOL","t":1950.840,"v":3.20},{"city":"BRISTOL","t":1950.884,"v":3.70},{"city":"BRISTOL","t":1950.929,"v":5.21},{"city":"BRISTOL","t":1950.988,"v":6.61},{"city":"BRISTOL","t":1951.048,"v":5.91},{"city":"BRISTOL","t":1951.077,"v":5.21},{"city":"BRISTOL","t":1951.122,"v":5.16},{"city":"BRISTOL","t":1951.152,"v":5.81},{"city":"BRISTOL","t":1951.196,"v":5.81},{"city":"BRISTOL","t":1951.226,"v":5.93},{"city":"BRISTOL","t":1951.256,"v":5.86},{"city":"BRISTOL","t":1951.300,"v":6.21},{"city":"BRISTOL","t":1951.345,"v":6.31},{"city":"BRISTOL","t":1951.382,"v":7.49},{"city":"BRISTOL","t":1951.419,"v":7.02},{"city":"BRISTOL","t":1951.449,"v":7.07},{"city":"BRISTOL","t":1951.486,"v":6.31},{"city":"BRISTOL","t":1951.538,"v":6.16},{"city":"BRISTOL","t":1951.568,"v":6.26},{"city":"BRISTOL","t":1951.612,"v":5.71},{"city":"BRISTOL","t":1951.657,"v":4.70},{"city":"BRISTOL","t":1951.701,"v":3.50},{"city":"BRISTOL","t":1951.746,"v":1.99},{"city":"BRISTOL","t":1951.776,"v":1.19},{"city":"BRISTOL","t":1951.805,"v":0.68},{"city":"BRISTOL","t":1951.850,"v":1.04},{"city":"BRISTOL","t":1951.894,"v":1.09},{"city":"BRISTOL","t":1951.939,"v":1.37},{"city":"BRISTOL","t":1951.969,"v":1.37},{"city":"BRISTOL","t":1951.999,"v":1.09},{"city":"BRISTOL","t":1952.043,"v":1.37},{"city":"BRISTOL","t":1952.088,"v":0.58},{"city":"BRISTOL","t":1952.117,"v":0.00},{"city":"BRISTOL","t":1952.147,"v":2.19},{"city":"BRISTOL","t":1952.192,"v":2.17},{"city":"BRISTOL","t":1952.221,"v":2.19},{"city":"BRISTOL","t":1952.251,"v":1.09},{"city":"BRISTOL","t":1952.296,"v":1.34},{"city":"BRISTOL","t":1952.340,"v":0.68},{"city":"BRISTOL","t":1952.385,"v":1.69},{"city":"BRISTOL","t":1952.415,"v":2.19},{"city":"BRISTOL","t":1952.459,"v":2.19},{"city":"BRISTOL","t":1952.504,"v":1.79},{"city":"BRISTOL","t":1952.548,"v":2.44},{"city":"BRISTOL","t":1952.593,"v":2.44},{"city":"BRISTOL","t":1952.637,"v":0.00},{"city":"BRISTOL","t":1952.667,"v":0.88},{"city":"BRISTOL","t":1952.712,"v":1.77},{"city":"BRISTOL","t":1952.771,"v":0.68},{"city":"BRISTOL","t":1952.801,"v":2.69},{"city":"BRISTOL","t":1952.860,"v":3.15},{"city":"BRISTOL","t":1952.920,"v":3.95},{"city":"BRISTOL","t":1952.964,"v":3.30},{"city":"BRISTOL","t":1952.994,"v":2.39},{"city":"BRISTOL","t":1953.024,"v":2.74},{"city":"BRISTOL","t":1953.068,"v":2.69},{"city":"BRISTOL","t":1953.113,"v":3.30},{"city":"BRISTOL","t":1953.143,"v":2.49},{"city":"BRISTOL","t":1953.172,"v":2.97},{"city":"BRISTOL","t":1953.217,"v":2.89},{"city":"BRISTOL","t":1953.262,"v":2.79},{"city":"BRISTOL","t":1953.306,"v":4.70},{"city":"BRISTOL","t":1953.351,"v":4.40},{"city":"BRISTOL","t":1953.395,"v":3.70},{"city":"BRISTOL","t":1953.440,"v":3.60},{"city":"BRISTOL","t":1953.470,"v":4.10},{"city":"BRISTOL","t":1953.499,"v":4.90},{"city":"BRISTOL","t":1953.529,"v":5.71},{"city":"BRISTOL","t":1953.588,"v":7.15},{"city":"BRISTOL","t":1953.633,"v":6.51},{"city":"BRISTOL","t":1953.678,"v":5.51},{"city":"BRISTOL","t":1953.722,"v":4.50},{"city":"BRISTOL","t":1953.752,"v":3.50},{"city":"BRISTOL","t":1953.796,"v":1.09},{"city":"BRISTOL","t":1953.841,"v":2.74},{"city":"BRISTOL","t":1953.886,"v":2.19},{"city":"BRISTOL","t":1953.930,"v":2.19},{"city":"BRISTOL","t":1953.960,"v":3.50},{"city":"BRISTOL","t":1954.004,"v":4.30},{"city":"BRISTOL","t":1954.049,"v":4.45},{"city":"BRISTOL","t":1954.094,"v":4.35},{"city":"BRISTOL","t":1954.138,"v":3.50},{"city":"BRISTOL","t":1954.183,"v":4.25},{"city":"BRISTOL","t":1954.227,"v":3.90},{"city":"BRISTOL","t":1954.272,"v":3.60},{"city":"BRISTOL","t":1954.316,"v":2.29},{"city":"BRISTOL","t":1954.346,"v":1.59},{"city":"BRISTOL","t":1954.391,"v":1.99},{"city":"BRISTOL","t":1954.421,"v":2.89},{"city":"BRISTOL","t":1954.465,"v":3.45},{"city":"BRISTOL","t":1954.495,"v":3.05},{"city":"BRISTOL","t":1954.525,"v":3.70},{"city":"BRISTOL","t":1954.569,"v":3.78},{"city":"BRISTOL","t":1954.614,"v":3.10},{"city":"BRISTOL","t":1954.643,"v":3.10},{"city":"BRISTOL","t":1954.688,"v":2.49},{"city":"BRISTOL","t":1954.718,"v":3.10},{"city":"BRISTOL","t":1954.762,"v":3.78},{"city":"BRISTOL","t":1954.807,"v":3.10},{"city":"BRISTOL","t":1954.851,"v":3.70},{"city":"BRISTOL","t":1954.896,"v":3.15},{"city":"BRISTOL","t":1954.926,"v":3.00},{"city":"BRISTOL","t":1954.963,"v":3.38},
{"city":"NOTTINGHAM","t":1950.000,"v":2.69},{"city":"NOTTINGHAM","t":1950.045,"v":2.29},{"city":"NOTTINGHAM","t":1950.074,"v":2.87},{"city":"NOTTINGHAM","t":1950.119,"v":1.69},{"city":"NOTTINGHAM","t":1950.163,"v":1.09},{"city":"NOTTINGHAM","t":1950.208,"v":1.09},{"city":"NOTTINGHAM","t":1950.253,"v":1.44},{"city":"NOTTINGHAM","t":1950.267,"v":1.59},{"city":"NOTTINGHAM","t":1950.297,"v":1.19},{"city":"NOTTINGHAM","t":1950.342,"v":0.00},{"city":"NOTTINGHAM","t":1950.386,"v":1.09},{"city":"NOTTINGHAM","t":1950.431,"v":1.09},{"city":"NOTTINGHAM","t":1950.475,"v":2.49},{"city":"NOTTINGHAM","t":1950.505,"v":3.85},{"city":"NOTTINGHAM","t":1950.535,"v":3.50},{"city":"NOTTINGHAM","t":1950.565,"v":4.55},{"city":"NOTTINGHAM","t":1950.609,"v":4.20},{"city":"NOTTINGHAM","t":1950.654,"v":4.75},{"city":"NOTTINGHAM","t":1950.698,"v":4.50},{"city":"NOTTINGHAM","t":1950.728,"v":3.70},{"city":"NOTTINGHAM","t":1950.773,"v":2.79},{"city":"NOTTINGHAM","t":1950.802,"v":2.64},{"city":"NOTTINGHAM","t":1950.847,"v":4.10},{"city":"NOTTINGHAM","t":1950.877,"v":4.70},{"city":"NOTTINGHAM","t":1950.921,"v":5.91},{"city":"NOTTINGHAM","t":1950.966,"v":6.01},{"city":"NOTTINGHAM","t":1950.996,"v":6.11},{"city":"NOTTINGHAM","t":1951.025,"v":5.61},{"city":"NOTTINGHAM","t":1951.070,"v":4.98},{"city":"NOTTINGHAM","t":1951.114,"v":5.21},{"city":"NOTTINGHAM","t":1951.144,"v":5.06},{"city":"NOTTINGHAM","t":1951.189,"v":5.91},{"city":"NOTTINGHAM","t":1951.218,"v":5.41},{"city":"NOTTINGHAM","t":1951.263,"v":5.81},{"city":"NOTTINGHAM","t":1951.293,"v":5.51},{"city":"NOTTINGHAM","t":1951.322,"v":5.01},{"city":"NOTTINGHAM","t":1951.367,"v":4.80},{"city":"NOTTINGHAM","t":1951.397,"v":4.50},{"city":"NOTTINGHAM","t":1951.441,"v":3.90},{"city":"NOTTINGHAM","t":1951.471,"v":3.80},{"city":"NOTTINGHAM","t":1951.501,"v":4.50},{"city":"NOTTINGHAM","t":1951.538,"v":5.93},{"city":"NOTTINGHAM","t":1951.560,"v":5.31},{"city":"NOTTINGHAM","t":1951.605,"v":4.30},{"city":"NOTTINGHAM","t":1951.649,"v":3.50},{"city":"NOTTINGHAM","t":1951.679,"v":2.49},{"city":"NOTTINGHAM","t":1951.724,"v":1.09},{"city":"NOTTINGHAM","t":1951.768,"v":2.19},{"city":"NOTTINGHAM","t":1951.813,"v":2.44},{"city":"NOTTINGHAM","t":1951.857,"v":2.49},{"city":"NOTTINGHAM","t":1951.887,"v":1.79},{"city":"NOTTINGHAM","t":1951.917,"v":2.54},{"city":"NOTTINGHAM","t":1951.961,"v":2.29},{"city":"NOTTINGHAM","t":1951.991,"v":2.49},{"city":"NOTTINGHAM","t":1952.036,"v":1.79},{"city":"NOTTINGHAM","t":1952.065,"v":2.09},{"city":"NOTTINGHAM","t":1952.110,"v":3.32},{"city":"NOTTINGHAM","t":1952.140,"v":2.59},{"city":"NOTTINGHAM","t":1952.184,"v":3.30},{"city":"NOTTINGHAM","t":1952.229,"v":3.82},{"city":"NOTTINGHAM","t":1952.259,"v":2.64},{"city":"NOTTINGHAM","t":1952.303,"v":2.89},{"city":"NOTTINGHAM","t":1952.348,"v":3.10},{"city":"NOTTINGHAM","t":1952.377,"v":4.20},{"city":"NOTTINGHAM","t":1952.422,"v":6.11},{"city":"NOTTINGHAM","t":1952.467,"v":6.46},{"city":"NOTTINGHAM","t":1952.496,"v":6.53},{"city":"NOTTINGHAM","t":1952.541,"v":6.11},{"city":"NOTTINGHAM","t":1952.585,"v":5.71},{"city":"NOTTINGHAM","t":1952.615,"v":4.70},{"city":"NOTTINGHAM","t":1952.660,"v":4.40},{"city":"NOTTINGHAM","t":1952.704,"v":4.30},{"city":"NOTTINGHAM","t":1952.749,"v":4.18},{"city":"NOTTINGHAM","t":1952.779,"v":4.15},{"city":"NOTTINGHAM","t":1952.823,"v":3.90},{"city":"NOTTINGHAM","t":1952.868,"v":4.05},{"city":"NOTTINGHAM","t":1952.912,"v":3.95},{"city":"NOTTINGHAM","t":1952.957,"v":2.94},{"city":"NOTTINGHAM","t":1953.001,"v":3.10},{"city":"NOTTINGHAM","t":1953.046,"v":3.20},{"city":"NOTTINGHAM","t":1953.076,"v":3.38},{"city":"NOTTINGHAM","t":1953.105,"v":3.15},{"city":"NOTTINGHAM","t":1953.150,"v":3.13},{"city":"NOTTINGHAM","t":1953.195,"v":4.00},{"city":"NOTTINGHAM","t":1953.239,"v":3.95},{"city":"NOTTINGHAM","t":1953.269,"v":5.51},{"city":"NOTTINGHAM","t":1953.314,"v":6.11},{"city":"NOTTINGHAM","t":1953.358,"v":5.91},{"city":"NOTTINGHAM","t":1953.403,"v":6.31},{"city":"NOTTINGHAM","t":1953.432,"v":6.53},{"city":"NOTTINGHAM","t":1953.462,"v":5.91},{"city":"NOTTINGHAM","t":1953.492,"v":5.11},{"city":"NOTTINGHAM","t":1953.536,"v":5.06},{"city":"NOTTINGHAM","t":1953.581,"v":4.80},{"city":"NOTTINGHAM","t":1953.626,"v":3.80},{"city":"NOTTINGHAM","t":1953.655,"v":3.50},{"city":"NOTTINGHAM","t":1953.700,"v":2.79},{"city":"NOTTINGHAM","t":1953.744,"v":2.19},{"city":"NOTTINGHAM","t":1953.789,"v":1.49},{"city":"NOTTINGHAM","t":1953.819,"v":0.68},{"city":"NOTTINGHAM","t":1953.863,"v":0.68},{"city":"NOTTINGHAM","t":1953.893,"v":1.09},{"city":"NOTTINGHAM","t":1953.923,"v":0.00},{"city":"NOTTINGHAM","t":1953.967,"v":4.00},{"city":"NOTTINGHAM","t":1954.012,"v":4.65},{"city":"NOTTINGHAM","t":1954.042,"v":4.30},{"city":"NOTTINGHAM","t":1954.079,"v":3.50},{"city":"NOTTINGHAM","t":1954.116,"v":4.20},{"city":"NOTTINGHAM","t":1954.160,"v":2.69},{"city":"NOTTINGHAM","t":1954.190,"v":3.70},{"city":"NOTTINGHAM","t":1954.235,"v":2.04},{"city":"NOTTINGHAM","t":1954.279,"v":2.09},{"city":"NOTTINGHAM","t":1954.309,"v":2.29},{"city":"NOTTINGHAM","t":1954.354,"v":1.09},{"city":"NOTTINGHAM","t":1954.383,"v":3.10},{"city":"NOTTINGHAM","t":1954.428,"v":3.70},{"city":"NOTTINGHAM","t":1954.473,"v":4.40},{"city":"NOTTINGHAM","t":1954.517,"v":5.01},{"city":"NOTTINGHAM","t":1954.547,"v":5.03},{"city":"NOTTINGHAM","t":1954.592,"v":4.50},{"city":"NOTTINGHAM","t":1954.636,"v":3.70},{"city":"NOTTINGHAM","t":1954.681,"v":2.89},{"city":"NOTTINGHAM","t":1954.733,"v":1.59},{"city":"NOTTINGHAM","t":1954.770,"v":2.09},{"city":"NOTTINGHAM","t":1954.814,"v":2.69},{"city":"NOTTINGHAM","t":1954.859,"v":3.15},{"city":"NOTTINGHAM","t":1954.889,"v":2.81},{"city":"NOTTINGHAM","t":1954.933,"v":3.10}
]},
"transform": [
  {"calculate": "indexof(['LONDON','BIRMINGHAM','LIVERPOOL','MANCHESTER','LEEDS','SHEFFIELD','BRISTOL','NOTTINGHAM'], datum.city)", "as": "pidx"},
  {"calculate": "floor(datum.pidx / 4)", "as": "prow"},
  {"calculate": "datum.pidx % 4", "as": "pcol"}
],
"facet": {
  "row": {"field": "prow", "type": "ordinal", "header": {"title": "log(cases + 1)", "labels": false, "labelPadding": 0, "titleOrient": "left", "titleFontSize": 23.7, "titleFontWeight": "normal", "titleFont": "Liberation Sans", "titleColor": "#000000", "titlePadding": 3}},
  "column": {"field": "pcol", "type": "ordinal", "header": {"title": "Time", "labels": false, "labelPadding": 0, "titleOrient": "bottom", "titleFontSize": 23.7, "titleFontWeight": "normal", "titleFont": "Liberation Sans", "titleColor": "#000000", "titlePadding": -5}}
},
"spacing": {"row": 8, "column": 8},
"spec": {
  "width": 245,
  "height": 391,
  "layer": [
    {
      "transform": [{"filter": "isValid(datum.lo)"}],
      "mark": {"type": "rect", "fill": "#D9D9D9", "stroke": "#333333", "strokeWidth": 1.1},
      "encoding": {
        "x": {"datum": 1949.755, "type": "quantitative", "title": null, "axis": {"values": [1950, 1951, 1952, 1953, 1954, 1955], "format": "d"}},
        "x2": {"datum": 1955.205},
        "y": {"datum": 10.22, "type": "quantitative", "title": null, "axis": {"values": [0, 2.5, 5, 7.5, 10], "format": ".1f"}},
        "y2": {"datum": 11.30}
      }
    },
    {
      "transform": [{"filter": "isValid(datum.lo)"}],
      "mark": {"type": "text", "fontSize": 19, "font": "Liberation Sans", "color": "#1A1A1A", "baseline": "middle", "align": "center"},
      "encoding": {
        "x": {"datum": 1952.48, "type": "quantitative", "title": null, "axis": {"values": [1950, 1951, 1952, 1953, 1954, 1955], "format": "d"}},
        "y": {"datum": 10.76, "type": "quantitative", "title": null, "axis": {"values": [0, 2.5, 5, 7.5, 10], "format": ".1f"}},
        "text": {"field": "city", "type": "nominal"}
      }
    },
    {
      "transform": [{"filter": "isValid(datum.t)"}],
      "mark": {"type": "line", "color": "#000000", "strokeWidth": 1.2},
      "encoding": {
        "x": {"field": "t", "type": "quantitative", "title": null, "axis": {"values": [1950, 1951, 1952, 1953, 1954, 1955], "format": "d"}, "scale": {"domain": [1949.755, 1955.205], "nice": false, "zero": false}},
        "y": {"field": "v", "type": "quantitative", "title": null, "axis": {"values": [0, 2.5, 5, 7.5, 10], "format": ".1f"}, "scale": {"domain": [-0.48, 11.30], "nice": false, "zero": false}}
      }
    },
    {
      "transform": [{"filter": "isValid(datum.lo)"}],
      "mark": {"type": "rule", "color": "#FF0000", "strokeWidth": 1.4, "strokeDash": [5.5, 7.5]},
      "encoding": {
        "x": {"field": "lo", "type": "quantitative", "title": null, "axis": {"values": [1950, 1951, 1952, 1953, 1954, 1955], "format": "d"}},
        "y": {"datum": -0.48, "type": "quantitative", "title": null, "axis": {"values": [0, 2.5, 5, 7.5, 10], "format": ".1f"}},
        "y2": {"datum": 10.22}
      }
    },
    {
      "transform": [{"filter": "isValid(datum.lo)"}],
      "mark": {"type": "rule", "color": "#FF0000", "strokeWidth": 1.4, "strokeDash": [5.5, 7.5]},
      "encoding": {
        "x": {"field": "hi", "type": "quantitative", "title": null, "axis": {"values": [1950, 1951, 1952, 1953, 1954, 1955], "format": "d"}},
        "y": {"datum": -0.48, "type": "quantitative", "title": null, "axis": {"values": [0, 2.5, 5, 7.5, 10], "format": ".1f"}},
        "y2": {"datum": 10.22}
      }
    }
  ]
},
"config": {
  "font": "Liberation Sans",
  "view": {"stroke": "#333333", "strokeWidth": 1.1},
  "axis": {
    "domain": false,
    "grid": true,
    "gridColor": "#EBEBEB",
    "gridWidth": 1.5,
    "tickColor": "#333333",
    "tickWidth": 1.1,
    "tickSize": 6,
    "labelFont": "Liberation Sans",
    "labelFontSize": 19,
    "labelColor": "#4D4D4D",
    "labelPadding": 4,
    "labelOverlap": false,
    "labelFlush": false,
    "labelBound": false
  },
  "axisX": {"labelPadding": 2}
}
}
